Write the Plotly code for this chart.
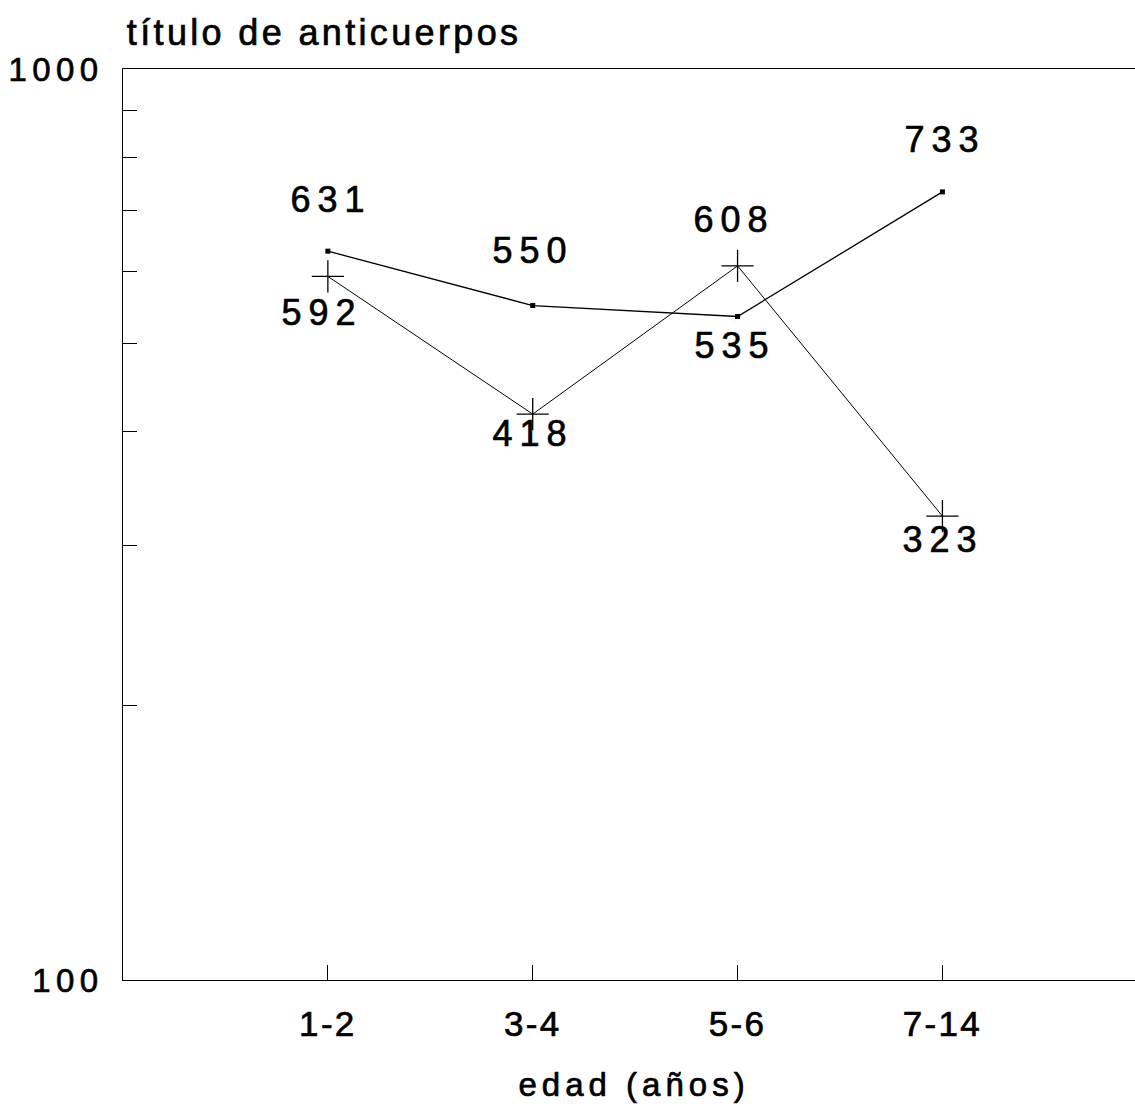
import json
import math
import plotly.graph_objects as go

# Age groups (x categories) and antibody titres for the two series
edades = ["1-2", "3-4", "5-6", "7-14"]
serie_puntos = [631, 550, 535, 733]
serie_cruces = [592, 418, 608, 323]

# Minor ticks on the log axis
y_ticks = [100, 200, 300, 400, 500, 600, 700, 800, 900, 1000]
y_ticktext = ["100", "", "", "", "", "", "", "", "", "1000"]

# Label offsets (pixels) relative to each marker
off_puntos = [(3, 52), (0, 55), (-3, -29), (3, 52)]
off_cruces = [(-6, -36), (0, -19), (-4, 46), (1, -23)]

FONT = "Liberation Sans, Arial, Helvetica, sans-serif"
LABEL_SPACING = 7.0
xpos = list(range(1, len(edades) + 1))

fig = go.Figure()
fig.add_trace(go.Scatter(
    x=xpos, y=serie_puntos, mode="lines+markers",
    line=dict(color="black", width=1.3),
    marker=dict(symbol="square", size=5, color="black"),
    showlegend=False, hoverinfo="skip",
))
fig.add_trace(go.Scatter(
    x=xpos, y=serie_cruces, mode="lines+markers",
    line=dict(color="black", width=1),
    marker=dict(symbol="cross-thin", size=23, line=dict(color="black", width=1.3)),
    showlegend=False, hoverinfo="skip",
))

annotations = []
ann_spacing = []
for serie, offs in ((serie_puntos, off_puntos), (serie_cruces, off_cruces)):
    for xi, v, (dx, dy) in zip(xpos, serie, offs):
        annotations.append(dict(
            x=xi, y=math.log10(v), xref="x", yref="y", text=str(v),
            showarrow=False, xanchor="center", yanchor="middle",
            xshift=dx, yshift=dy, font=dict(family=FONT, size=36, color="black"),
        ))
        ann_spacing.append(LABEL_SPACING)

# Axis titles
annotations.append(dict(
    x=0, y=1, xref="paper", yref="paper", text="título de anticuerpos",
    showarrow=False, xanchor="left", yanchor="middle", xshift=37, yshift=37,
    font=dict(family=FONT, size=36, color="black"),
))
ann_spacing.append(3.35)
annotations.append(dict(
    x=0.502, y=0, xref="paper", yref="paper", text="edad (años)",
    showarrow=False, xanchor="center", yanchor="middle", xshift=3, yshift=-104,
    font=dict(family=FONT, size=33, color="black"),
))
ann_spacing.append(5.0)

fig.update_layout(
    width=1135, height=1104,
    margin=dict(l=123, r=0, t=69, b=124),
    paper_bgcolor="white", plot_bgcolor="white",
    annotations=annotations,
    xaxis=dict(
        range=[0, 4.94], tickvals=xpos, ticktext=edades,
        ticks="inside", ticklen=15, tickwidth=1, tickcolor="black",
        showline=True, linecolor="black", linewidth=1, mirror=True,
        showgrid=False, zeroline=False, ticklabelstandoff=13,
        tickfont=dict(family=FONT, size=35, color="black"),
    ),
    yaxis=dict(
        type="log", range=[2, 3], tickvals=y_ticks, ticktext=y_ticktext,
        ticks="inside", ticklen=14, tickwidth=1, tickcolor="black",
        showline=True, linecolor="black", linewidth=1,
        showgrid=False, zeroline=False, ticklabelstandoff=12,
        tickfont=dict(family=FONT, size=33, color="black"),
    ),
)

# Wider tracking and a slightly heavier stroke for all SVG text
post = """
var gd = document.getElementById('{plot_id}');
var annSpacing = %s;
function styleText(t, ls) {
  t.style.letterSpacing = ls + 'px';
  t.style.stroke = 'black';
  t.style.strokeWidth = '0.7px';
}
function spread() {
  gd.querySelectorAll('.xtick text').forEach(function (t) { styleText(t, 2.3); });
  gd.querySelectorAll('.ytick text').forEach(function (t) { styleText(t, 5.4); });
  gd.querySelectorAll('g.annotation').forEach(function (g) {
    var i = parseInt(g.getAttribute('data-index'), 10);
    var t = g.querySelector('text');
    if (t) styleText(t, annSpacing[i]);
  });
}
spread();
gd.on('plotly_afterplot', spread);
""" % json.dumps(ann_spacing)

fig.write_html("out.html", post_script=post)
